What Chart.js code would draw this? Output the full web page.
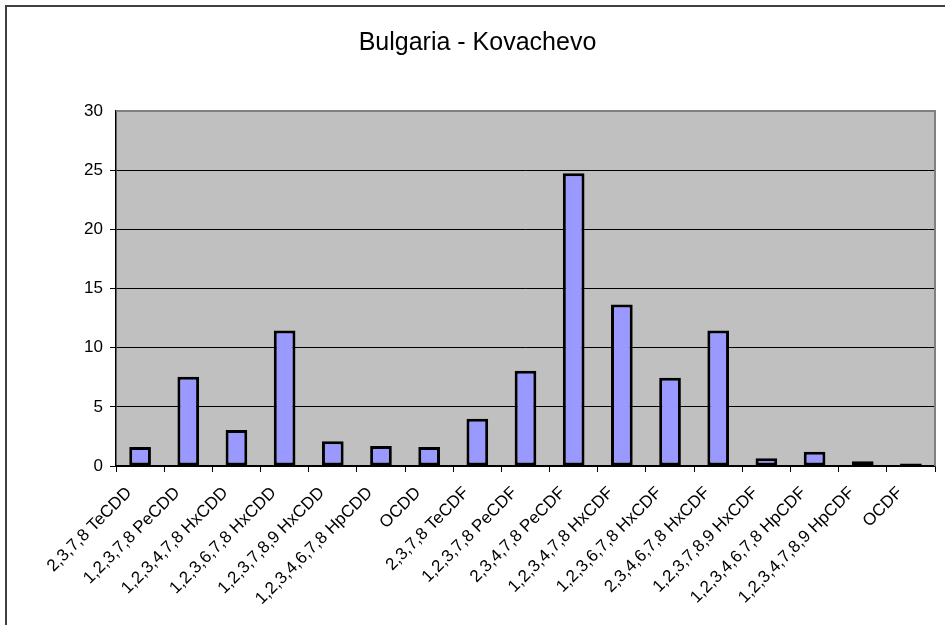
<!DOCTYPE html>
<html>
<head>
<meta charset="utf-8">
<script src="https://cdn.jsdelivr.net/npm/chart.js@4"></script>
<style>
  html, body { margin:0; padding:0; background:#fff; }
  canvas { display:block; }
</style>
</head>
<body>
<canvas id="c" width="945" height="625"></canvas>
<script>
// ====== data ======
const chartTitle = "Bulgaria - Kovachevo";
const congeners = [
  "2,3,7,8 TeCDD", "1,2,3,7,8 PeCDD", "1,2,3,4,7,8 HxCDD", "1,2,3,6,7,8 HxCDD",
  "1,2,3,7,8,9 HxCDD", "1,2,3,4,6,7,8 HpCDD", "OCDD", "2,3,7,8 TeCDF",
  "1,2,3,7,8 PeCDF", "2,3,4,7,8 PeCDF", "1,2,3,4,7,8 HxCDF", "1,2,3,6,7,8 HxCDF",
  "2,3,4,6,7,8 HxCDF", "1,2,3,7,8,9 HxCDF", "1,2,3,4,6,7,8 HpCDF", "1,2,3,4,7,8,9 HpCDF",
  "OCDF"
];
const values = [1.6, 7.55, 3.05, 11.45, 2.1, 1.7, 1.6, 4.0, 8.05, 24.75, 13.65, 7.45, 11.45, 0.65, 1.2, 0.4, 0.22];
const yTicks = [0, 5, 10, 15, 20, 25, 30];

const FONT = 'Liberation Sans, Arial, sans-serif';

// plot background + frame
const frame = {
  id: 'frame',
  beforeDraw(chart){
    const {ctx, chartArea:a} = chart;
    ctx.save();
    ctx.fillStyle = '#C0C0C0';
    ctx.fillRect(a.left, a.top, a.right - a.left, a.bottom - a.top);
    ctx.restore();
  },
  afterDraw(chart){
    const {ctx, chartArea:a} = chart;
    ctx.save();
    // grey plot border top / right
    ctx.strokeStyle = '#808080';
    ctx.lineWidth = 2;
    ctx.beginPath();
    ctx.moveTo(a.left, a.top); ctx.lineTo(a.right, a.top); ctx.lineTo(a.right, a.bottom);
    ctx.stroke();
    // outer border (top and left only)
    ctx.strokeStyle = '#404040';
    ctx.lineWidth = 2;
    ctx.beginPath();
    ctx.moveTo(6, 625); ctx.lineTo(6, 6); ctx.lineTo(945, 6);
    ctx.stroke();
    ctx.restore();
  }
};

new Chart(document.getElementById('c'), {
  type: 'bar',
  data: {
    labels: congeners,
    datasets: [{
      data: values,
      backgroundColor: '#9999FF',
      borderColor: '#000000',
      borderWidth: 3,
      borderSkipped: false,
      barPercentage: 0.45,
      categoryPercentage: 1.0
    }]
  },
  options: {
    responsive: false,
    animation: false,
    layout: { padding: { left: 20, right: 10, top: 0, bottom: 0 } },
    plugins: {
      legend: { display: false },
      tooltip: { enabled: false },
      title: {
        display: true,
        text: chartTitle,
        color: '#000',
        font: { family: FONT, size: 25, weight: 'normal' },
        padding: { top: 28, bottom: 53 }
      }
    },
    scales: {
      x: {
        offset: true,
        grid: { display: true, offset: true, drawOnChartArea: false, drawTicks: true, tickLength: 6, color: '#000', lineWidth: 1 },
        border: { display: true, color: '#000', width: 1.5 },
        ticks: {
          color: '#000', maxRotation: 45, minRotation: 45, autoSkip: false, padding: 11, labelOffset: -11,
          font: { family: FONT, size: 17 }
        },
        afterFit(s){ s.height = 159; }
      },
      y: {
        min: 0, max: 30,
        afterBuildTicks(s){ s.ticks = yTicks.map(v => ({value: v})); },
        grid: {
          color: ctx => (ctx.tick && ctx.tick.value === 30) ? 'rgba(0,0,0,0)' : '#000',
          lineWidth: 1, tickLength: 6
        },
        border: { display: true, color: '#000', width: 1.5 },
        ticks: {
          color: '#000', padding: 7,
          font: { family: FONT, size: 17 }
        },
        afterFit(s){ s.width = 96; }
      }
    }
  },
  plugins: [frame]
});
</script>
</body>
</html>
